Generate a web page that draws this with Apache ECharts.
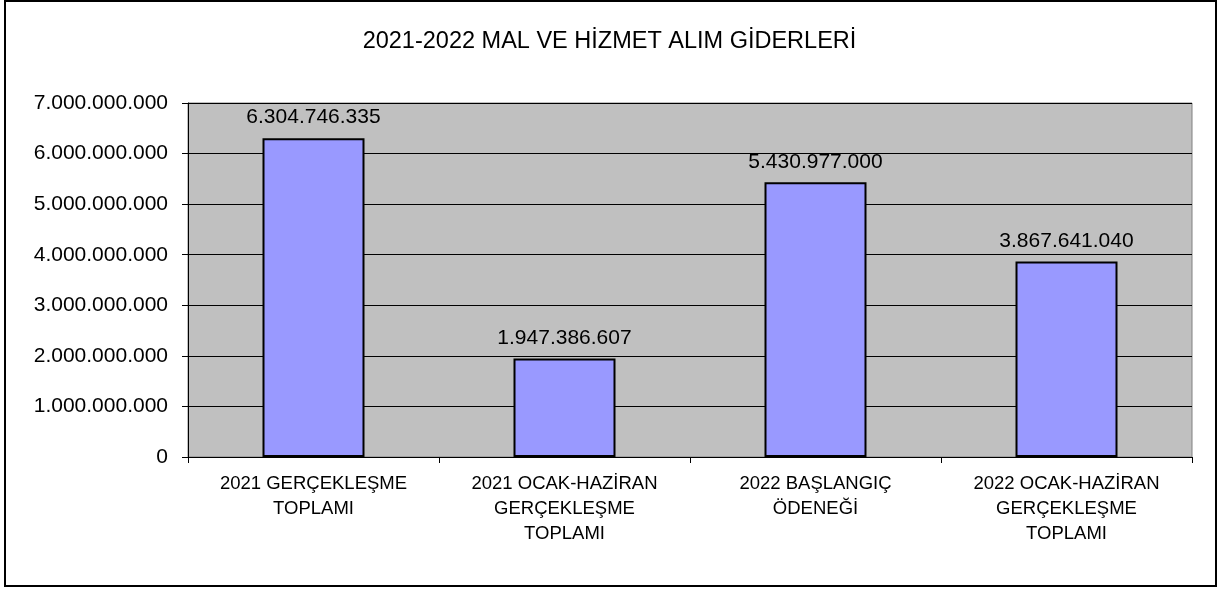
<!DOCTYPE html>
<html><head><meta charset="utf-8">
<script src="https://cdn.jsdelivr.net/npm/echarts@6/dist/echarts.min.js"></script>
<style>html,body{margin:0;padding:0;background:#fff}#c{width:1219px;height:590px}</style>
</head><body><div id="c"></div>
<script>
const titleText = '2021-2022 MAL VE HİZMET ALIM GİDERLERİ';
const categories = [
  '2021 GERÇEKLEŞME\nTOPLAMI',
  '2021 OCAK-HAZİRAN\nGERÇEKLEŞME\nTOPLAMI',
  '2022 BAŞLANGIÇ\nÖDENEĞİ',
  '2022 OCAK-HAZİRAN\nGERÇEKLEŞME\nTOPLAMI'
];
const values = [6304746335, 1947386607, 5430977000, 3867641040];
const yTicks = [0, 1000000000, 2000000000, 3000000000, 4000000000, 5000000000, 6000000000, 7000000000];

function fmt(v){ return String(Math.round(v)).replace(/\B(?=(\d{3})+(?!\d))/g,'.'); }

const chart = echarts.init(document.getElementById('c'), null, {renderer:'canvas'});
const FONT = 'Liberation Sans, Arial, sans-serif';
chart.setOption({
  animation:false,
  textStyle:{fontFamily:FONT},
  title:{text:titleText,left:'center',top:25,
    textStyle:{fontSize:23.5,fontWeight:'normal',color:'#000',fontFamily:FONT}},
  graphic:[{type:'rect',shape:{x:5,y:1,width:1211,height:585},
    style:{fill:'none',stroke:'#000',lineWidth:2},silent:true,z:-1}],
  grid:{left:188,right:27,top:103,bottom:133,show:true,backgroundColor:'#C0C0C0',borderColor:'#808080',borderWidth:1},
  xAxis:{type:'category',data:categories,
    axisLine:{lineStyle:{color:'#000',width:1}},
    axisTick:{show:true,length:6,lineStyle:{color:'#000'}},
    axisLabel:{color:'#000',fontSize:18.5,lineHeight:25,margin:14,interval:0,fontFamily:FONT}},
  yAxis:{type:'value',min:yTicks[0],max:yTicks[yTicks.length-1],interval:yTicks[1]-yTicks[0],
    axisLine:{show:true,lineStyle:{color:'#000',width:1}},
    axisTick:{show:true,length:6,lineStyle:{color:'#000'}},
    splitLine:{lineStyle:{color:'#000',width:1}},
    axisLabel:{color:'#000',fontSize:21,margin:20,formatter:fmt,fontFamily:FONT}},
  series:[{type:'bar',data:values,barWidth:102,
    itemStyle:{color:'#9999FF',borderColor:'#000',borderWidth:2},
    label:{show:true,position:'top',distance:10,color:'#000',fontSize:21,fontFamily:FONT,
      formatter:p=>fmt(p.value)}}]
});
</script></body></html>
